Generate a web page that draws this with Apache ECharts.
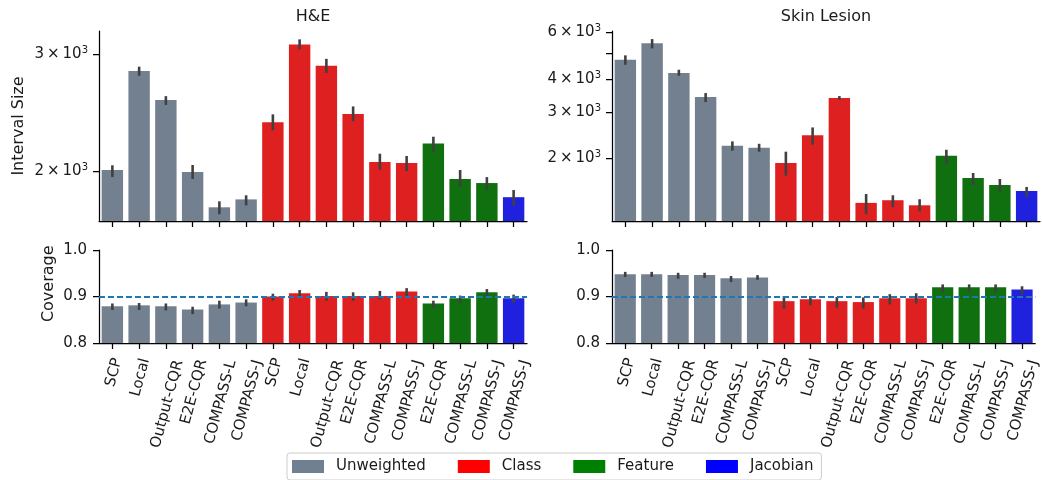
<!DOCTYPE html>
<html><head><meta charset="utf-8">
<script src="https://cdn.jsdelivr.net/npm/echarts@6/dist/echarts.min.js"></script>
<style>html,body{margin:0;padding:0;background:#fff}#c{width:1042px;height:480px}</style>
</head><body><div id="c"></div>
<script>
// ---------------- data ----------------
const methods = ['SCP','Local','Output-CQR','E2E-CQR','COMPASS-L','COMPASS-J','SCP','Local','Output-CQR','E2E-CQR','COMPASS-L','COMPASS-J','E2E-CQR','COMPASS-L','COMPASS-J','COMPASS-J'];
const groupOf = [0,0,0,0,0,0,1,1,1,1,1,1,2,2,2,3];
const groupNames = ['Unweighted','Class','Feature','Jacobian'];
const panelTitles = ['H&E','Skin Lesion'];

const heSize   = [2007,2831,2559,1993,1763,1812,2369,3105,2884,2438,2063,2056,2200,1945,1918,1826];
const heSizeLo = [1958,2784,2516,1945,1721,1775,2304,3052,2813,2377,2009,2000,2137,1892,1872,1772];
const heSizeHi = [2040,2874,2594,2042,1800,1838,2435,3160,2953,2503,2124,2107,2253,2007,1958,1872];

const skinSize   = [4721,5449,4204,3412,2232,2193,1921,2444,3381,1356,1388,1328,2046,1684,1585,1504];
const skinSizeLo = [4521,5215,4106,3266,2137,2119,1719,2251,3332,1228,1305,1260,1910,1585,1495,1428];
const skinSizeHi = [4907,5655,4328,3533,2318,2270,2119,2618,3441,1465,1449,1400,2155,1760,1670,1558];

const heCov   = [0.879,0.881,0.879,0.872,0.883,0.887,0.900,0.907,0.901,0.901,0.901,0.911,0.885,0.896,0.909,0.896];
const heCovLo = [0.871,0.871,0.870,0.862,0.874,0.879,0.891,0.899,0.891,0.891,0.894,0.901,0.875,0.886,0.901,0.887];
const heCovHi = [0.885,0.886,0.885,0.878,0.891,0.894,0.906,0.914,0.910,0.909,0.912,0.918,0.891,0.902,0.916,0.904];

const skinCov   = [0.948,0.948,0.946,0.946,0.939,0.941,0.890,0.894,0.890,0.888,0.896,0.896,0.920,0.920,0.920,0.915];
const skinCovLo = [0.942,0.942,0.938,0.940,0.931,0.936,0.874,0.881,0.876,0.874,0.883,0.885,0.909,0.909,0.909,0.904];
const skinCovHi = [0.953,0.953,0.951,0.951,0.944,0.946,0.901,0.901,0.899,0.898,0.905,0.907,0.926,0.926,0.926,0.922];

const heSizeTicks = [2000,3000];
const skinSizeTicks = [2000,3000,4000,5000,6000];
const skinSizeLabels = [2000,3000,4000,6000];
const targetCoverage = 0.9;

// ---------------- style ----------------
const FONT = 'DejaVu Sans';
const barColors = ['#738090','#df2020','#107010','#2020df'];
const legendColors = ['#708090','#ff0000','#008000','#0000ff'];
const TXT = '#1a1a1a';
const ROT = 75;
const XLFS = 15;

// rich styles that push each rotated label sideways so it is centred on its tick
const cv = document.createElement('canvas').getContext('2d');
cv.font = XLFS + 'px "' + FONT + '"';
function makeRich(color) {
  const r = {};
  methods.forEach((m, i) => {
    const L = cv.measureText(m).width;
    r['p' + i] = {fontFamily: FONT, fontSize: XLFS, color: color,
      lineHeight: 18 + Math.round(0.27 * L), verticalAlign: 'bottom'};
  });
  return r;
}

const grids = [
  {left: 99, top: 31, width: 428, height: 190},
  {left: 99, top: 250, width: 428, height: 93},
  {left: 612, top: 31, width: 428, height: 190},
  {left: 612, top: 250, width: 428, height: 93}
];

function xAxis(gi, labels) {
  const base = {
    type: 'category', gridIndex: gi, data: methods.slice(),
    axisLine: {show: true, onZero: false, lineStyle: {color: '#000', width: 1.25}},
    axisTick: {show: true, interval: 0, alignWithLabel: true, length: 6, lineStyle: {color: '#000', width: 1.25}},
    splitLine: {show: false}
  };
  base.axisLabel = labels
    ? {show: true, interval: 0, rotate: ROT, margin: 14, fontFamily: FONT, fontSize: XLFS, color: TXT,
       formatter: (v, i) => '{p' + i + '|' + v + '}', rich: makeRich(TXT)}
    : {show: false, interval: 0};
  return base;
}

function sciFmt(v) {
  return '{m|' + Math.round(v / 1000) + '\u2009\u00d7\u200910}{s|3}';
}
const sciRich = {
  m: {fontFamily: FONT, fontSize: 15, color: TXT},
  s: {fontFamily: FONT, fontSize: 10, color: TXT, verticalAlign: 'top', padding: [0, 0, 7, 0]}
};

function logAxis(gi, min, max, ticks, labels, name) {
  return {
    type: 'log', logBase: 10, gridIndex: gi, min: min, max: max,
    axisLine: {show: true, lineStyle: {color: '#000', width: 1.25}},
    axisTick: {show: true, length: 6, customValues: ticks, lineStyle: {color: '#000', width: 1.25}},
    axisLabel: {show: true, customValues: labels, margin: 11, formatter: sciFmt, rich: sciRich, color: TXT},
    minorTick: {show: false}, splitLine: {show: false},
    name: name || '', nameLocation: 'middle', nameGap: 72,
    nameTextStyle: {fontFamily: FONT, fontSize: 16, color: TXT}
  };
}
function covAxis(gi, name) {
  return {
    type: 'value', gridIndex: gi, min: 0.8, max: 1.0, interval: 0.1,
    axisLine: {show: true, lineStyle: {color: '#000', width: 1.25}},
    axisTick: {show: true, length: 6, lineStyle: {color: '#000', width: 1.25}},
    axisLabel: {show: true, margin: 12, fontFamily: FONT, fontSize: 15, color: TXT, formatter: v => v.toFixed(1)},
    splitLine: {show: false},
    name: name ? '\u00a0\u00a0\u00a0\u00a0\u00a0' + name : '', nameLocation: 'middle', nameGap: 42,
    nameTextStyle: {fontFamily: FONT, fontSize: 16, color: TXT}
  };
}

function barSeries(gi, vals, withMark) {
  const out = [];
  for (let g = 0; g < groupNames.length; g++) {
    const s = {
      type: 'bar', name: groupNames[g], xAxisIndex: gi, yAxisIndex: gi,
      data: vals.map((v, i) => groupOf[i] === g ? v : '-'),
      barCategoryGap: '20%', barGap: '-100%', clip: true,
      itemStyle: {color: barColors[g]}, z: 2, silent: true
    };
    if (withMark && g === 0) {
      s.markLine = {
        silent: true, symbol: 'none', label: {show: false}, z: 5,
        lineStyle: {type: [6, 3], color: '#1f77b4', width: 1.8},
        data: [{yAxis: targetCoverage}]
      };
    }
    out.push(s);
  }
  return out;
}
function errSeries(gi, lo, hi) {
  return {
    type: 'custom', xAxisIndex: gi, yAxisIndex: gi, z: 4, silent: true,
    encode: {x: 0, y: [1, 2]},
    data: lo.map((l, i) => [i, l, hi[i]]),
    renderItem: function (params, api) {
      const a = api.coord([api.value(0), api.value(1)]);
      const b = api.coord([api.value(0), api.value(2)]);
      return {type: 'line', shape: {x1: a[0], y1: a[1], x2: b[0], y2: b[1]},
        style: {stroke: '#404040', lineWidth: 2.6}};
    }
  };
}
function panel(gi, vals, lo, hi, withMark) {
  return barSeries(gi, vals, withMark).concat([errSeries(gi, lo, hi)]);
}

const option = {
  animation: false,
  backgroundColor: '#fff',
  textStyle: {fontFamily: FONT},
  grid: grids,
  xAxis: [xAxis(0, false), xAxis(1, true), xAxis(2, false), xAxis(3, true)],
  yAxis: [
    logAxis(0, 1681, 3253, heSizeTicks, heSizeTicks, 'Interval Size'),
    covAxis(1, 'Coverage'),
    logAxis(2, 1158, 6068, skinSizeTicks, skinSizeLabels, ''),
    covAxis(3, '')
  ],
  legend: {
    left: 287, top: 453, orient: 'horizontal',
    padding: [6, 8, 6, 5], itemGap: 32, itemWidth: 32, itemHeight: 13,
    borderColor: '#cccccc', borderWidth: 1, borderRadius: 3,
    textStyle: {fontFamily: FONT, fontSize: 15, color: TXT, padding: [0, 0, 0, 7]},
    data: groupNames.map((n, g) => ({name: n, icon: 'rect', itemStyle: {color: legendColors[g]}}))
  },
  graphic: [
    {type: 'text', x: 313, y: 17, style: {text: panelTitles[0], align: 'center', verticalAlign: 'middle', font: '16px "DejaVu Sans"', fill: TXT}},
    {type: 'text', x: 826, y: 17, style: {text: panelTitles[1], align: 'center', verticalAlign: 'middle', font: '16px "DejaVu Sans"', fill: TXT}}
  ],
  series: [].concat(
    panel(0, heSize, heSizeLo, heSizeHi, false),
    panel(1, heCov, heCovLo, heCovHi, true),
    panel(2, skinSize, skinSizeLo, skinSizeHi, false),
    panel(3, skinCov, skinCovLo, skinCovHi, true)
  )
};
const chart = echarts.init(document.getElementById('c'), null, {renderer: 'canvas'});
chart.setOption(option);
</script></body></html>
